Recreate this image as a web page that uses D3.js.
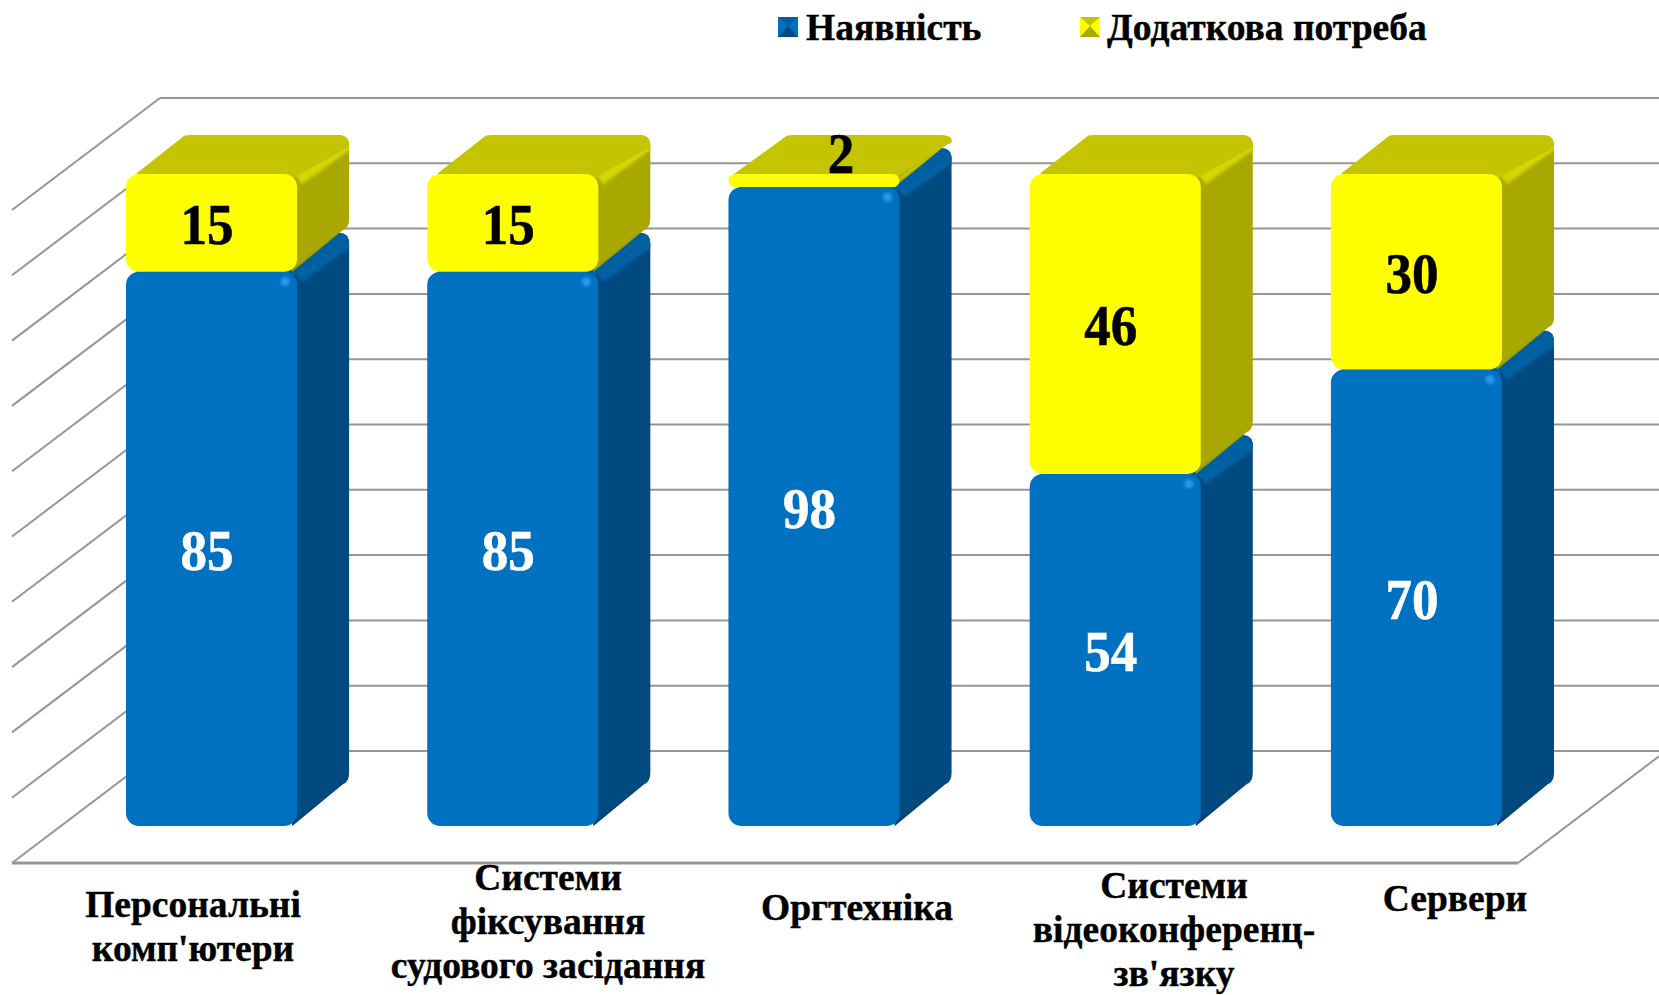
<!DOCTYPE html>
<html><head><meta charset="utf-8">
<script src="https://cdnjs.cloudflare.com/ajax/libs/d3/7.8.5/d3.min.js"></script>
<style>html,body{margin:0;padding:0;background:#fff;overflow:hidden}text{font-family:"Liberation Serif",serif;font-weight:bold}</style>
</head><body><svg id="c" width="1659" height="995"></svg>
<script>
const categories=["Персональні комп'ютери","Системи фіксування судового засідання","Оргтехніка","Системи відеоконференц-зв'язку","Сервери"];
const available=[85,85,98,54,70];
const extra=[15,15,2,46,30];
const seriesNames=["Наявність","Додаткова потреба"];
const tickValues=[0,10,20,30,40,50,60,70,80,90,100];
const labelLines=[["Персональні","комп'ютери"],["Системи","фіксування","судового засідання"],["Оргтехніка"],["Системи","відеоконференц-","зв'язку"],["Сервери"]];

const svg=d3.select("#c");
const x=d3.scaleBand().domain(categories).range([126,1502]).paddingInner(0.432).paddingOuter(0);
const y=d3.scaleLinear().domain([0,100]).range([826,174]);
const yBack=d3.scaleLinear().domain([0,100]).range([751,98]);
const yFront=d3.scaleLinear().domain([0,100]).range([863,210]);
const DX=52,DY=39;
const wallL=12,wallB=160,wallR=1659,floorR=1518;
const pal=[
 {f:"#0070c0",s:"#004a7f",t:"#005f9f",ridge:"#0062a6",hi:"#0a7ed4",lo:"#003a66",spot:"#2a98ea"},
 {f:"#ffff00",s:"#a8a800",t:"#c4c400",ridge:"#d6d600",hi:"#ffff00",lo:"#8a8a00",spot:null}];
const defs=svg.append("defs");
const blur=(id,s)=>defs.append("filter").attr("id",id).attr("x","-30%").attr("y","-30%").attr("width","160%").attr("height","160%").append("feGaussianBlur").attr("stdDeviation",s);
blur("b3",2.2);blur("b2",1.4);
const grid=svg.append("g").attr("fill","none").attr("stroke","#969696").attr("stroke-width",2);
tickValues.forEach(t=>{
  grid.append("line").attr("x1",wallB).attr("x2",wallR).attr("y1",yBack(t)).attr("y2",yBack(t));
  grid.append("line").attr("x1",wallL).attr("x2",wallB).attr("y1",yFront(t)).attr("y2",yBack(t));
});
grid.append("line").attr("x1",wallL).attr("x2",floorR).attr("y1",yFront(0)).attr("y2",yFront(0)).attr("stroke-width",3);
grid.append("line").attr("x1",floorR).attr("x2",wallR).attr("y1",yFront(0)).attr("y2",yFront(0)-(wallR-floorR)*(yFront(0)-yBack(0))/(wallB-wallL));

function box(g,xl,w,yt,yb,si,id){
  const p=pal[si],h=yb-yt,thin=h<20,r=Math.min(13,h/2),xr=xl+w,c=Math.min(12,h/2);
  const bx=xr+DX,by=yb-DY,tx=yt-DY;
  const sideD=[`M ${xr-6} ${yt+3}`,`L ${bx-8} ${tx+2}`,`Q ${bx} ${tx} ${bx} ${tx+c}`,`L ${bx} ${Math.max(by-14,tx+c)}`,`Q ${bx} ${by-5} ${bx-6} ${by-3}`,`L ${xr-5} ${yb}`,"Z"].join(" ");
  const a=thin?0:11,b=thin?4:-1;
  const topD=[`M ${xl+a} ${yt+b}`,`L ${xl+58} ${tx+1}`,`Q ${xl+60} ${tx} ${xl+66} ${tx}`,`L ${bx-10} ${tx}`,`Q ${bx} ${tx} ${bx} ${tx+c}`,`L ${xr-4} ${yt+4}`,`L ${xl+a} ${yt+4}`,"Z"].join(" ");
  g.append("path").attr("fill",p.s).attr("d",sideD);
  const sc="cs"+id;
  defs.append("clipPath").attr("id",sc).append("path").attr("d",sideD);
  const side=g.append("g").attr("clip-path",`url(#${sc})`);
  side.append("line").attr("x1",xr+1).attr("y1",yt+5).attr("x2",bx+3).attr("y2",tx+5).attr("stroke",p.ridge).attr("stroke-width",thin?4:13).attr("filter","url(#b2)");
  side.append("line").attr("x1",xr-5).attr("y1",yb+1).attr("x2",bx-4).attr("y2",by-1).attr("stroke",p.lo).attr("stroke-width",4).attr("filter","url(#b2)");
  g.append("path").attr("fill",p.t).attr("d",topD);
  const cid="cp"+id;
  defs.append("clipPath").attr("id",cid).append("rect").attr("x",xl).attr("y",yt).attr("width",w).attr("height",h).attr("rx",r);
  g.append("rect").attr("x",xl).attr("y",yt).attr("width",w).attr("height",h).attr("rx",r).attr("fill",p.f);
  const ins=g.append("g").attr("clip-path",`url(#${cid})`);
  ins.append("line").attr("x1",xr-8).attr("x2",xr-8).attr("y1",yt+5).attr("y2",yb-8).attr("stroke",p.hi).attr("stroke-width",10).attr("filter","url(#b2)");
  ins.append("line").attr("x1",xl+10).attr("x2",xr-8).attr("y1",yt+8).attr("y2",yt+8).attr("stroke",p.hi).attr("stroke-width",8).attr("filter","url(#b2)");
  if(!thin&&p.spot) ins.append("circle").attr("cx",xr-12).attr("cy",yt+10).attr("r",4.5).attr("fill",p.spot).attr("filter","url(#b2)");
  ins.append("line").attr("x1",xl-2).attr("x2",xr+2).attr("y1",yb+.5).attr("y2",yb+.5).attr("stroke",p.lo).attr("stroke-width",8).attr("filter","url(#b2)");
  ins.append("line").attr("x1",xl-1).attr("x2",xl-1).attr("y1",yt).attr("y2",yb).attr("stroke",si?"#c8c800":p.lo).attr("stroke-width",3).attr("filter","url(#b2)");
}
const digitText=(g,px,py,v,fill)=>g.append("text").attr("x",px).attr("y",py).attr("text-anchor","middle").attr("font-size",56).attr("fill",fill).attr("stroke",fill).attr("stroke-width",.6).attr("textLength",String(v).length*26.5).attr("lengthAdjust","spacingAndGlyphs").text(v);
const bars=svg.append("g");
categories.forEach((cat,i)=>{
  const g=bars.append("g"),xl=x(cat),w=x.bandwidth();
  box(g,xl,w,y(available[i]),y(0),0,"a"+i);
  box(g,xl,w,y(available[i]+extra[i]),y(available[i]),1,"e"+i);
  digitText(g,xl+w/2-4.5,y(available[i]/2)+21,available[i],"#fff");
  const small=extra[i]<5;
  digitText(g,xl+w/2+(small?27:-4.5),small?173:y(available[i]+extra[i]/2)+21,extra[i],"#000");
});
const labelX=[193,548,857,1174,1455],labelY=[917,890,920,898,911];
categories.forEach((cat,i)=>{
  const t=svg.append("text").attr("text-anchor","middle").attr("font-size",37.5).attr("fill","#000").attr("stroke","#000").attr("stroke-width",.4);
  labelLines[i].forEach((ln,j)=>t.append("tspan").attr("x",labelX[i]).attr("y",labelY[i]+j*44).text(ln));
});
const legX=[778,1080];
seriesNames.forEach((n,i)=>{
  const p=pal[i],lx=legX[i];
  svg.append("rect").attr("x",lx).attr("y",17).attr("width",20).attr("height",20).attr("fill",p.f);
  svg.append("path").attr("fill",p.s).attr("d",`M ${lx} 37 L ${lx+10} 26 L ${lx+20} 37 Z`);
  svg.append("path").attr("fill",p.t).attr("d",`M ${lx} 17 L ${lx+20} 17 L ${lx+10} 26 Z`);
  svg.append("text").attr("x",lx+(i?27:28)).attr("y",40).attr("font-size",37.5).attr("fill","#000").attr("stroke","#000").attr("stroke-width",.4).text(n);
});
</script></body></html>
